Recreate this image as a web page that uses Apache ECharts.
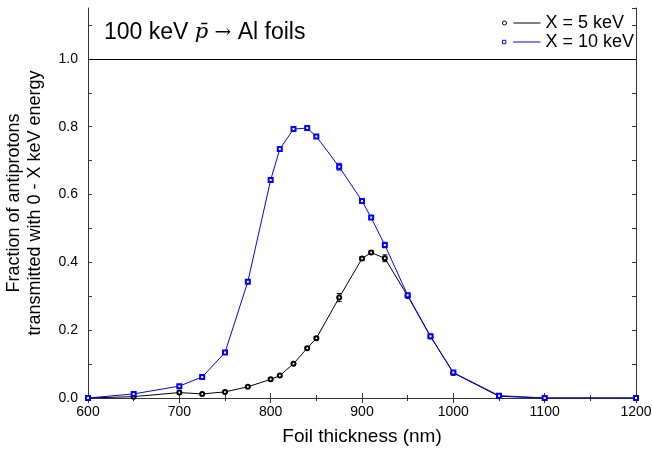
<!DOCTYPE html>
<html><head><meta charset="utf-8">
<script src="https://cdn.jsdelivr.net/npm/echarts@6/dist/echarts.min.js"></script>
<style>html,body{margin:0;padding:0;background:#fff}#c{width:652px;height:451px}</style>
</head><body><div id="c"></div>
<script>
const thickness = [600,650,700,725,750,775,800,810,825,840,850,875,900,910,925,950,975,1000,1050,1100,1200];
const frac5  = [0,0.004,0.016,0.012,0.018,0.033,0.055,0.066,0.101,0.147,0.176,0.296,0.411,0.429,0.412,0.301,0.181,0.074,0.005,0,0];
const err5   = [0,0.001,0.005,0.002,0.003,0.003,0.003,0.003,0.003,0.003,0.004,0.012,0.005,0.005,0.010,0.004,0.003,0.002,0.001,0,0];
const frac10 = [0,0.012,0.035,0.062,0.134,0.343,0.643,0.734,0.793,0.796,0.771,0.682,0.581,0.532,0.451,0.303,0.182,0.075,0.007,0,0];
const err10  = [0,0.003,0.003,0.003,0.004,0.004,0.005,0.005,0.004,0.004,0.004,0.010,0.005,0.005,0.008,0.005,0.004,0.003,0.002,0,0];
const yTickLabels = ['0.0','0.2','0.4','0.6','0.8','1.0'];
const xTicks = ['600','700','800','900','1000','1100','1200'];

const FONT = 'Liberation Sans, Arial, sans-serif';
const AX = '#333';

function errSeries(vals, errs, color){
  return {
    type:'custom', silent:true, z:3, xAxisIndex:0, yAxisIndex:0,
    renderItem:(params, api)=>{
      const x=api.value(0), y=api.value(1), e=api.value(2);
      if(!e) return null;
      const t=api.coord([x,y+e]), b=api.coord([x,y-e]);
      const w=2.5;
      const st={stroke:color,lineWidth:1};
      return {type:'group',children:[
        {type:'line',shape:{x1:t[0],y1:t[1],x2:b[0],y2:b[1]},style:st},
        {type:'line',shape:{x1:t[0]-w,y1:t[1],x2:t[0]+w,y2:t[1]},style:st},
        {type:'line',shape:{x1:b[0]-w,y1:b[1],x2:b[0]+w,y2:b[1]},style:st}
      ]};
    },
    encode:{x:0,y:1},
    data: thickness.map((t,i)=>[t,vals[i],errs[i]])
  };
}

const chart = echarts.init(document.getElementById('c'), null, {renderer:'canvas'});
chart.setOption({
  animation:false,
  backgroundColor:'#fff',
  textStyle:{fontFamily:FONT},
  grid:{left:88,right:16,top:8,bottom:53,containLabel:false,outerBoundsMode:'none'},
  title:{
    left:99, top:16,
    text:'{a|100 keV }{p|p̄}{b| → }{a|Al foils}',
    textStyle:{fontWeight:'normal',rich:{
      a:{fontFamily:FONT,fontSize:23,fontWeight:'normal',color:'#000'},
      p:{fontFamily:'DejaVu Serif',fontStyle:'italic',fontWeight:'normal',fontSize:21,color:'#000'},
      b:{fontFamily:'DejaVu Serif',fontWeight:'normal',fontSize:20,color:'#000'}
    }}
  },
  legend:{
    orient:'vertical', right:13, top:9, itemGap:1,
    itemWidth:38, itemHeight:4,
    textStyle:{fontFamily:FONT,fontSize:18,color:'#000'},
    data:[
      {name:'X = 5 keV', icon:'path://M0,2 a2,2 0 1,0 4,0 a2,2 0 1,0 -4,0 M11,2 L38,2',
       itemStyle:{color:'none',borderColor:'#000',borderWidth:1}},
      {name:'X = 10 keV', icon:'path://M0.3,0.3 h3.4 v3.4 h-3.4 Z M11,2 L38,2',
       itemStyle:{color:'none',borderColor:'#00f',borderWidth:1}}
    ]
  },
  xAxis:[{
    type:'value', min:600, max:1200, interval:100, position:'bottom',
    name:'Foil thickness (nm)', nameLocation:'middle', nameGap:29,
    nameTextStyle:{fontFamily:FONT,fontSize:19,color:'#000'},
    axisLine:{show:true,lineStyle:{color:AX,width:1}},
    axisTick:{show:true,inside:true,length:5,lineStyle:{color:AX}},
    minorTick:{show:true,splitNumber:2,length:3,lineStyle:{color:AX}},
    axisLabel:{fontFamily:FONT,fontSize:14,color:'#000',margin:7,
      formatter:v=>xTicks.includes(String(v))?String(v):''},
    splitLine:{show:false}
  },{
    type:'value', min:600, max:1200, interval:100, position:'top',
    axisLine:{show:true,lineStyle:{color:AX,width:1}},
    axisTick:{show:true,inside:true,length:5,lineStyle:{color:AX}},
    minorTick:{show:true,splitNumber:2,length:3,lineStyle:{color:AX}},
    axisLabel:{show:false}, splitLine:{show:false}
  }],
  yAxis:[{
    type:'value', min:0, max:1.15, interval:0.1, position:'left',
    name:'Fraction of antiprotons\ntransmitted with 0 - X keV energy',
    nameLocation:'middle', nameGap:42,
    nameTextStyle:{fontFamily:FONT,fontSize:18,color:'#000',lineHeight:21},
    axisLine:{show:true,lineStyle:{color:AX,width:1}},
    axisTick:{show:true,inside:true,length:4,lineStyle:{color:AX}},
    axisLabel:{fontFamily:FONT,fontSize:14,color:'#000',margin:10,showMaxLabel:false,
      formatter:v=>{const s=v.toFixed(1);return yTickLabels.includes(s)&&Math.abs(v*10-Math.round(v*10))<1e-6&&Math.round(v*10)%2===0?s:'';}},
    splitLine:{show:false}
  },{
    type:'value', min:0, max:1.15, interval:0.1, position:'right',
    axisLine:{show:true,lineStyle:{color:AX,width:1}},
    axisTick:{show:true,inside:true,length:4,lineStyle:{color:AX}},
    axisLabel:{show:false}, splitLine:{show:false}
  }],
  series:[
    {
      name:'X = 5 keV', type:'line', xAxisIndex:0, yAxisIndex:0,
      data: thickness.map((t,i)=>[t,frac5[i]]),
      symbol:'emptyCircle', symbolSize:4, showAllSymbol:true,
      lineStyle:{color:'#000',width:1}, itemStyle:{color:'#000',borderWidth:1},
      z:4,
      markLine:{silent:true,symbol:'none',label:{show:false},
        lineStyle:{color:'#000',type:'solid',width:1},data:[{yAxis:1}]}
    },
    {
      name:'X = 10 keV', type:'line', xAxisIndex:0, yAxisIndex:0,
      data: thickness.map((t,i)=>[t,frac10[i]]),
      symbol:'emptyRect', symbolSize:4, showAllSymbol:true,
      lineStyle:{color:'#00f',width:1}, itemStyle:{color:'#00f',borderWidth:1},
      z:5
    },
    errSeries(frac5, err5, '#000'),
    errSeries(frac10, err10, '#00f')
  ]
});
</script></body></html>
